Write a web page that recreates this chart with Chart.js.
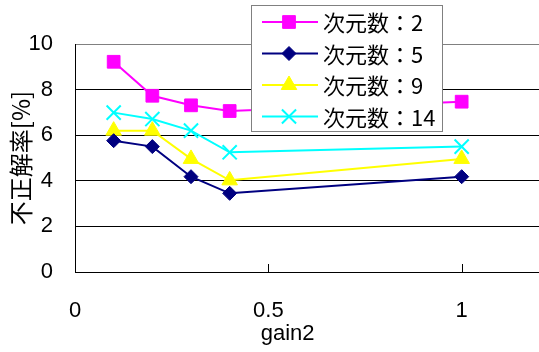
<!DOCTYPE html>
<html>
<head>
<meta charset="utf-8">
<script src="https://cdn.jsdelivr.net/npm/chart.js@4"></script>
<style>
  body { margin: 0; background: #fff; }
  #wrap { width: 539px; height: 352px; }
</style>
</head>
<body>
<div id="wrap"><canvas id="myChart" width="539" height="352"></canvas></div>
<script>
// data
var gain = [0.1, 0.2, 0.3, 0.4, 1.0];
var dim2 = [9.22, 7.73, 7.31, 7.06, 7.47];
var dim5 = [5.76, 5.50, 4.18, 3.45, 4.18];
var dim9 = [6.20, 6.20, 4.96, 4.02, 4.96];
var dim14 = [6.99, 6.71, 6.20, 5.25, 5.50];
var seriesLabels = ['次元数：2', '次元数：5', '次元数：9', '次元数：14'];
var xTicks = [0, 0.5, 1];
var yTicks = [0, 2, 4, 6, 8, 10];

function pts(vals) {
    return vals.map(function (v, i) { return { x: gain[i], y: v }; });
}

// legend box inside the plot, upper middle
var boxLegend = {
    id: 'boxLegend',
    afterDraw: function (chart) {
        var ctx = chart.ctx;
        ctx.save();
        ctx.fillStyle = '#fff';
        ctx.fillRect(251, 5, 191, 126);
        ctx.strokeStyle = '#808080';
        ctx.lineWidth = 1;
        ctx.strokeRect(251.5, 5.5, 191, 126);
        chart.data.datasets.forEach(function (ds, i) {
            var y = 22 + i * 31.5;
            ctx.strokeStyle = ds.borderColor;
            ctx.lineWidth = 2;
            ctx.beginPath();
            ctx.moveTo(262, y);
            ctx.lineTo(318, y);
            ctx.stroke();
            ctx.fillStyle = ds.pointBackgroundColor;
            ctx.strokeStyle = ds.pointBorderColor;
            ctx.lineWidth = ds.pointBorderWidth;
            Chart.helpers.drawPoint(ctx, {
                pointStyle: ds.pointStyle, rotation: 0,
                radius: ds.pointRadius, borderWidth: ds.pointBorderWidth
            }, 289, y);
            ctx.fillStyle = '#000';
            ctx.font = '22px "Noto Sans CJK JP"';
            ctx.textBaseline = 'middle';
            ctx.fillText(ds.label, 323, y + 1);
        });
        ctx.restore();
    }
};

// inward tick marks on the x axis and the x title
var xExtras = {
    id: 'xExtras',
    afterDraw: function (chart) {
        var ctx = chart.ctx, xs = chart.scales.x, area = chart.chartArea;
        ctx.save();
        ctx.strokeStyle = '#000';
        ctx.lineWidth = 1;
        xs.ticks.forEach(function (t) {
            var px = Math.round(xs.getPixelForValue(t.value)) + 0.5;
            ctx.beginPath();
            ctx.moveTo(px, area.bottom);
            ctx.lineTo(px, area.bottom - 8);
            ctx.stroke();
        });
        ctx.fillStyle = '#000';
        ctx.font = '22px "Liberation Sans"';
        ctx.textAlign = 'center';
        ctx.textBaseline = 'middle';
        ctx.fillText('gain2', xs.getPixelForValue(0.55), 334);
        ctx.restore();
    }
};

var ctx = document.getElementById('myChart').getContext('2d');
var chart = new Chart(ctx, {
    type: 'line',
    data: {
        datasets: [{
            label: seriesLabels[0],
            data: pts(dim2),
            borderColor: '#ff00ff',
            backgroundColor: '#ff00ff',
            pointBackgroundColor: '#ff00ff',
            pointBorderColor: '#ff00ff',
            pointStyle: 'rect',
            pointRadius: 9,
            pointBorderWidth: 1,
            borderWidth: 2
        }, {
            label: seriesLabels[1],
            data: pts(dim5),
            borderColor: '#000080',
            backgroundColor: '#000080',
            pointBackgroundColor: '#000080',
            pointBorderColor: '#000080',
            pointStyle: 'rectRot',
            pointRadius: 7,
            pointBorderWidth: 1,
            borderWidth: 2
        }, {
            label: seriesLabels[2],
            data: pts(dim9),
            borderColor: '#ffff00',
            backgroundColor: '#ffff00',
            pointBackgroundColor: '#ffff00',
            pointBorderColor: '#ffff00',
            pointStyle: 'triangle',
            pointRadius: 9,
            pointBorderWidth: 1,
            borderWidth: 2
        }, {
            label: seriesLabels[3],
            data: pts(dim14),
            borderColor: '#00ffff',
            backgroundColor: '#00ffff',
            pointBackgroundColor: '#00ffff',
            pointBorderColor: '#00ffff',
            pointStyle: 'crossRot',
            pointRadius: 10,
            pointBorderWidth: 2,
            borderWidth: 2
        }]
    },
    options: {
        responsive: false,
        animation: false,
        layout: { autoPadding: false, padding: { top: 44, right: 0, bottom: 0, left: 0 } },
        plugins: {
            legend: { display: false },
            tooltip: { enabled: false }
        },
        scales: {
            x: {
                type: 'linear',
                min: 0,
                max: 1.2,
                afterBuildTicks: function (s) {
                    s.ticks = xTicks.map(function (v) { return { value: v }; });
                },
                afterFit: function (s) {
                    s.height = 80;
                    s.paddingLeft = 0;
                    s.paddingRight = 0;
                },
                grid: { drawOnChartArea: false, drawTicks: false },
                border: { color: '#000', width: 1 },
                ticks: {
                    color: '#000',
                    font: { family: 'Liberation Sans', size: 22 },
                    padding: 26,
                    maxRotation: 0,
                    callback: function (v) { return String(v); }
                }
            },
            y: {
                min: 0,
                max: 10,
                afterBuildTicks: function (s) {
                    s.ticks = yTicks.map(function (v) { return { value: v }; });
                },
                afterFit: function (s) { s.width = 75; },
                grid: {
                    drawTicks: false,
                    color: function (c) { return c.tick && c.tick.value === 10 ? '#808080' : '#000'; }
                },
                border: { color: '#000', width: 1 },
                ticks: {
                    color: '#000',
                    font: { family: 'Liberation Sans', size: 22 },
                    padding: 22
                },
                title: {
                    display: true,
                    text: '不正解率[%]',
                    color: '#000',
                    font: { family: 'Noto Sans CJK JP', size: 24 },
                    padding: { top: 6, bottom: 0 }
                }
            }
        }
    },
    plugins: [boxLegend, xExtras]
});
</script>
</body>
</html>
